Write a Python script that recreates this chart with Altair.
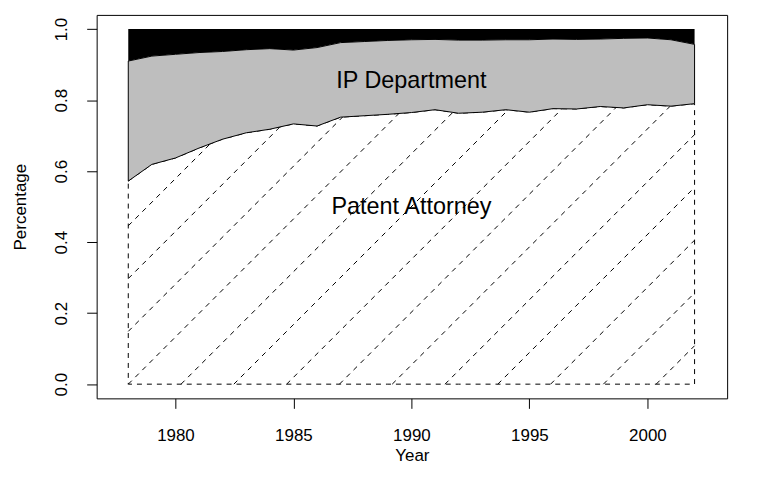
import altair as alt
import pandas as pd
import numpy as np

# ---- data ----
years = list(range(1978, 2003))
patent_attorney = [0.572, 0.619, 0.637, 0.665, 0.690, 0.708, 0.718, 0.733, 0.727, 0.752,
                   0.756, 0.760, 0.765, 0.773, 0.763, 0.766, 0.773, 0.766, 0.776, 0.775,
                   0.782, 0.778, 0.787, 0.783, 0.790]
ip_department = [0.338, 0.305, 0.292, 0.269, 0.247, 0.234, 0.227, 0.208, 0.221, 0.210,
                 0.209, 0.208, 0.205, 0.198, 0.206, 0.203, 0.197, 0.204, 0.196, 0.196,
                 0.190, 0.196, 0.188, 0.187, 0.167]
other = [0.090, 0.076, 0.071, 0.066, 0.063, 0.058, 0.055, 0.059, 0.052, 0.038,
         0.035, 0.032, 0.030, 0.029, 0.031, 0.031, 0.030, 0.030, 0.028, 0.029,
         0.028, 0.026, 0.025, 0.030, 0.043]
x_ticks = [1980, 1985, 1990, 1995, 2000]
y_ticks = [0.0, 0.2, 0.4, 0.6, 0.8, 1.0]
label_text = ["IP Department", "Patent Attorney"]
label_year = [1990.0, 1990.0]
label_value = [0.853, 0.50]

# ---- layout ----
W, H = 633, 385
X_DOMAIN = [1976.66, 2003.38]
Y_DOMAIN = [-0.04, 1.04]
FONT = "Liberation Sans"
AX_FS = 17

pa = np.array(patent_attorney)
ip_top = pa + np.array(ip_department)
top = ip_top + np.array(other)
df = pd.DataFrame({"year": years, "pa": pa, "ipTop": ip_top, "top": top,
                   "zero": 0.0})

# ---- hatch lines (45 degrees on screen) clipped to the patent-attorney polygon ----
px_per_year = W / (X_DOMAIN[1] - X_DOMAIN[0])
px_per_unit = H / (Y_DOMAIN[1] - Y_DOMAIN[0])
slope = px_per_year / px_per_unit          # value units per year
spacing = 53 / px_per_year                 # years between hatch lines along baseline
yr = np.array(years, dtype=float)


def boundary(x):
    return np.interp(x, yr, pa)


hatch_rows = []
for n in range(-6, 20):
    x0 = yr[0] + n * spacing
    if x0 >= yr[-1]:
        continue
    if x0 < yr[0]:
        xs, ys = yr[0], slope * (yr[0] - x0)
    else:
        xs, ys = x0, 0.0
    if ys >= boundary(xs):
        continue
    xe, ye = yr[-1], slope * (yr[-1] - x0)
    for i in range(len(yr) - 1):
        a, b = yr[i], yr[i + 1]
        if b <= xs:
            continue
        a = max(a, xs)
        fa = slope * (a - x0) - boundary(a)
        fb = slope * (b - x0) - boundary(b)
        if fa < 0 <= fb:
            t = -fa / (fb - fa)
            xe = a + t * (b - a)
            ye = slope * (xe - x0)
            break
    hatch_rows.append({"x1": xs, "y1": ys, "x2": xe, "y2": ye})
hatch = pd.DataFrame(hatch_rows)

labels_df = pd.DataFrame({"year": label_year, "value": label_value, "text": label_text})

xs_scale = alt.Scale(domain=X_DOMAIN, nice=False, zero=False)
ys_scale = alt.Scale(domain=Y_DOMAIN, nice=False, zero=False)

x_axis = alt.Axis(values=x_ticks, format="d", grid=False, domain=False,
                  tickColor="black", tickSize=10, tickWidth=1,
                  labelFont=FONT, labelFontSize=AX_FS, labelColor="black",
                  labelPadding=19, labelFlush=False,
                  title="Year", titleFont=FONT, titleFontSize=AX_FS,
                  titleFontWeight="normal", titleColor="black",
                  titleBaseline="alphabetic", titleAlign="center",
                  titleX=W / 2, titleY=62)
y_axis = alt.Axis(values=y_ticks, format=".1f", grid=False, domain=False,
                  tickColor="black", tickSize=10, tickWidth=1,
                  labelFont=FONT, labelFontSize=AX_FS, labelColor="black",
                  labelAngle=270, labelAlign="center", labelBaseline="alphabetic",
                  labelPadding=20, labelFlush=False,
                  title="Percentage", titleFont=FONT, titleFontSize=AX_FS,
                  titleFontWeight="normal", titleColor="black",
                  titleAngle=270, titleAlign="center", titleBaseline="alphabetic",
                  titleX=-71, titleY=H / 2)

base = alt.Chart(df)

black = base.mark_area(color="black", interpolate="linear").encode(
    x=alt.X("year:Q", scale=xs_scale, axis=x_axis),
    y=alt.Y("ipTop:Q", scale=ys_scale, axis=y_axis),
    y2="top:Q",
)

patent = base.mark_area(fill="white", stroke="black", strokeWidth=1,
                        strokeDash=[5, 5], interpolate="linear").encode(
    x=alt.X("year:Q", scale=xs_scale),
    y=alt.Y("pa:Q", scale=ys_scale),
    y2="zero:Q",
)

hatch_layer = alt.Chart(hatch).mark_rule(color="black", strokeWidth=1,
                                         strokeDash=[5, 5]).encode(
    x=alt.X("x1:Q", scale=xs_scale),
    y=alt.Y("y1:Q", scale=ys_scale),
    x2="x2:Q",
    y2="y2:Q",
)

gray = base.mark_area(fill="#BEBEBE", stroke="black", strokeWidth=1,
                      interpolate="linear").encode(
    x=alt.X("year:Q", scale=xs_scale),
    y=alt.Y("ipTop:Q", scale=ys_scale),
    y2="pa:Q",
)

texts = alt.Chart(labels_df).mark_text(font=FONT, fontSize=23.5, color="black",
                                       align="center", baseline="middle").encode(
    x=alt.X("year:Q", scale=xs_scale),
    y=alt.Y("value:Q", scale=ys_scale),
    text="text:N",
)

chart = alt.layer(black, patent, hatch_layer, gray, texts).properties(
    width=W, height=H,
    autosize=alt.AutoSizeParams(type="none"),
    padding={"left": 89, "top": 6, "right": 35, "bottom": 75},
    background="white",
).configure_view(stroke="black", strokeWidth=1)

chart.save("out.html", embed_options={"renderer": "svg", "actions": False})
